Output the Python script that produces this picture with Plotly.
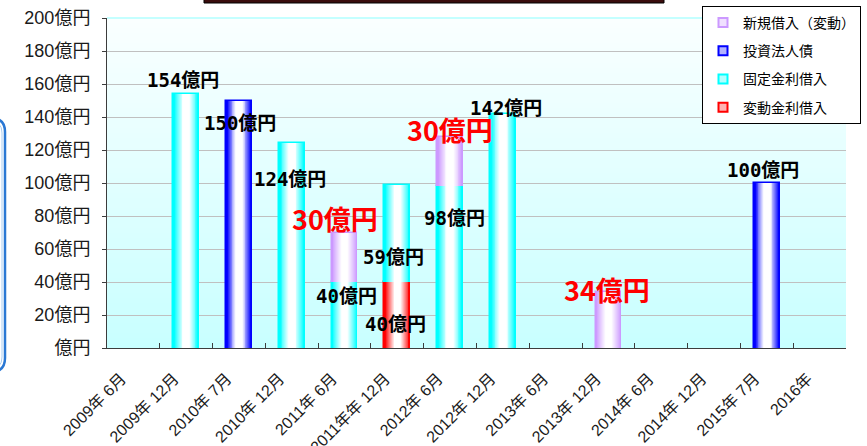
import plotly.graph_objects as go

# ---- data -------------------------------------------------------------
categories = [
    "2009年 6月", "2009年 12月", "2010年 7月", "2010年 12月", "2011年 6月",
    "2011年年 12月", "2012年 6月", "2012年 12月", "2013年 6月", "2013年 12月",
    "2014年 6月", "2014年 12月", "2015年 7月", "2016年",
]
variable_rate = [None, None, None, None, None, 40, None, None, None, None, None, None, None, None]
fixed_rate = [None, 154, None, 124, 40, 59, 98, 142, None, None, None, None, None, None]
bonds = [None, None, 150, None, None, None, None, None, None, None, None, None, 100, None]
new_variable = [None, None, None, None, 30, None, 30, None, None, 34, None, None, None, None]

series_names = {
    "variable": "変動金利借入",
    "fixed": "固定金利借入",
    "bonds": "投資法人債",
    "new": "新規借入（変動）",
}
y_tickvals = [0, 20, 40, 60, 80, 100, 120, 140, 160, 180, 200]

# ---- styles -----------------------------------------------------------
colors = {"variable": "#FF0000", "fixed": "#00FFFF", "bonds": "#0000FF", "new": "#CC99FF"}
stack_order = ["variable", "fixed", "bonds", "new"]          # bottom -> top
legend_order = ["new", "bonds", "fixed", "variable"]
values = {"variable": variable_rate, "fixed": fixed_rate, "bonds": bonds, "new": new_variable}

# value labels: (series, category index, x shift px, y shift px)
label_specs = [
    ("fixed", 1, -3, 14), ("bonds", 2, 1, -22), ("fixed", 3, -2, -36),
    ("fixed", 4, 2, -14), ("new", 4, -10, 14), ("fixed", 5, -4, -72),
    ("variable", 5, -2, -42), ("fixed", 6, 4, -32), ("new", 6, 0, 7),
    ("fixed", 7, 3, 6), ("new", 9, -1, 2), ("bonds", 12, -4, 13),
]

L, R, T, B = 107, 21, 18, 98
W, H = 867, 446
PW, PH = W - L - R, H - T - B


def px_x(x):
    return (x - L) / PW


def px_y(y):
    return (H - B - y) / PH


def mix(hex_color, t):
    """Blend a hex colour towards white by fraction t."""
    r, g, b = (int(hex_color[i:i + 2], 16) for i in (1, 3, 5))
    r, g, b = (round(c + (255 - c) * t) for c in (r, g, b))
    return f"rgb({r},{g},{b})"


# stacked bases
running = [0] * len(categories)
bases = {}
for key in stack_order:
    b = []
    for i, v in enumerate(values[key]):
        b.append(running[i])
        if v:
            running[i] += v
    bases[key] = b

fig = go.Figure()

# legend entries
for key in legend_order:
    fig.add_trace(go.Scatter(
        x=[None], y=[None], mode="markers", name=series_names[key],
        legendgroup=key,
        marker=dict(symbol="square", size=9, color=mix(colors[key], 0.7),
                    line=dict(color=colors[key], width=2)),
    ))

# bars: each segment painted as nested layers for a horizontal shading
BAR_W = 0.49
LAYERS = 12
for key in stack_order:
    for k in range(LAYERS):
        frac = k / (LAYERS - 1)
        width = BAR_W * (1 - 0.78 * frac)
        shade = min(1.0, max(0.0, (frac - 0.08) / 0.85)) ** 0.9
        fig.add_trace(go.Bar(
            x=categories, y=values[key], base=bases[key],
            width=BAR_W if k == 0 else width,
            marker=dict(color=mix(colors[key], shade),
                        line=dict(color=colors[key], width=1.5 if k == 0 else 0)),
            showlegend=False, legendgroup=key, hoverinfo="skip",
        ))

# value labels
annotations = []
for key, i, dx, dy in label_specs:
    v = values[key][i]
    top = bases[key][i] + v
    big = key == "new"
    annotations.append(dict(
        x=categories[i], y=top, xref="x", yref="y", text=f"{v}億円",
        showarrow=False, xshift=dx, yshift=dy,
        font=dict(family="Noto Sans CJK JP" if big else "DejaVu Sans Mono, Noto Sans CJK JP",
                  size=27 if big else 19,
                  color="#FF0000" if big else "#000000", weight="bold"),
    ))

# plot-area background: vertical fade from near white to pale cyan
shapes = []
N = 66
for j in range(N):
    t = (j + 0.5) / N
    g = round(200 + (250 - 200) * t)
    shapes.append(dict(type="rect", xref="paper", yref="paper",
                       x0=0, x1=1, y0=j / N, y1=(j + 1) / N,
                       fillcolor=f"rgb({g},255,255)", line=dict(width=0), layer="below"))
shapes.append(dict(type="line", xref="paper", yref="paper", x0=0, x1=1, y0=1, y1=1,
                   line=dict(color="#C4FFFF", width=2), layer="above"))

# frame pieces around the chart
shapes.append(dict(type="rect", xref="paper", yref="paper",
                   x0=px_x(204), x1=px_x(664), y0=px_y(3), y1=px_y(-12),
                   fillcolor="#3a0c0c", line=dict(color="#000000", width=1)))


def rounded_right(x_r, y_t, y_b, r, x_l=-40):
    rx = r / PW
    ry = r / PH
    xl, xr, yt, yb = px_x(x_l), px_x(x_r), px_y(y_t), px_y(y_b)
    return (f"M {xl},{yt} L {xr - rx},{yt} Q {xr},{yt} {xr},{yt - ry} "
            f"L {xr},{yb + ry} Q {xr},{yb} {xr - rx},{yb} L {xl},{yb}")


shapes.append(dict(type="path", xref="paper", yref="paper",
                   path=rounded_right(5, 118, 372, 14),
                   line=dict(color="#2a78d4", width=2.5)))
shapes.append(dict(type="path", xref="paper", yref="paper",
                   path=rounded_right(2, 121, 369, 12),
                   line=dict(color="#a9cdf2", width=1)))

fig.update_layout(
    width=W, height=H,
    margin=dict(l=L, r=R, t=T, b=B, autoexpand=False),
    paper_bgcolor="#FFFFFF", plot_bgcolor="rgba(0,0,0,0)",
    barmode="overlay", bargap=0,
    annotations=annotations, shapes=shapes,
    showlegend=True,
    legend=dict(x=px_x(861), y=px_y(6), xanchor="right", yanchor="top",
                bgcolor="#FFFFFF", bordercolor="#000000", borderwidth=1,
                font=dict(family="Noto Sans CJK JP", size=14, color="#000000"),
                traceorder="grouped", tracegroupgap=7),
    xaxis=dict(type="category", categoryorder="array", categoryarray=categories,
               range=[-0.5, len(categories) - 0.5], automargin=False,
               tickson="boundaries", ticks="inside", ticklen=5, tickcolor="#3c3c3c",
               showline=True, linecolor="#3c3c3c", linewidth=1, showgrid=False,
               tickangle=-45, ticklabelshift=-12, ticklabelstandoff=14,
               tickfont=dict(family="Liberation Sans, Noto Sans CJK JP", size=16, color="#1a1a1a")),
    yaxis=dict(range=[0, 200], tickvals=y_tickvals, automargin=False,
               ticktext=["億円"] + [f"{v}億円" for v in y_tickvals[1:]],
               ticks="outside", ticklen=4, tickcolor="#3c3c3c",
               showline=True, linecolor="#3c3c3c", linewidth=1,
               gridcolor="#C0C0C0", gridwidth=1, zeroline=False,
               ticklabelstandoff=8,
               tickfont=dict(family="Liberation Sans, Noto Sans CJK JP", size=18, color="#1a1a1a")),
)

fig.write_html("out.html")
